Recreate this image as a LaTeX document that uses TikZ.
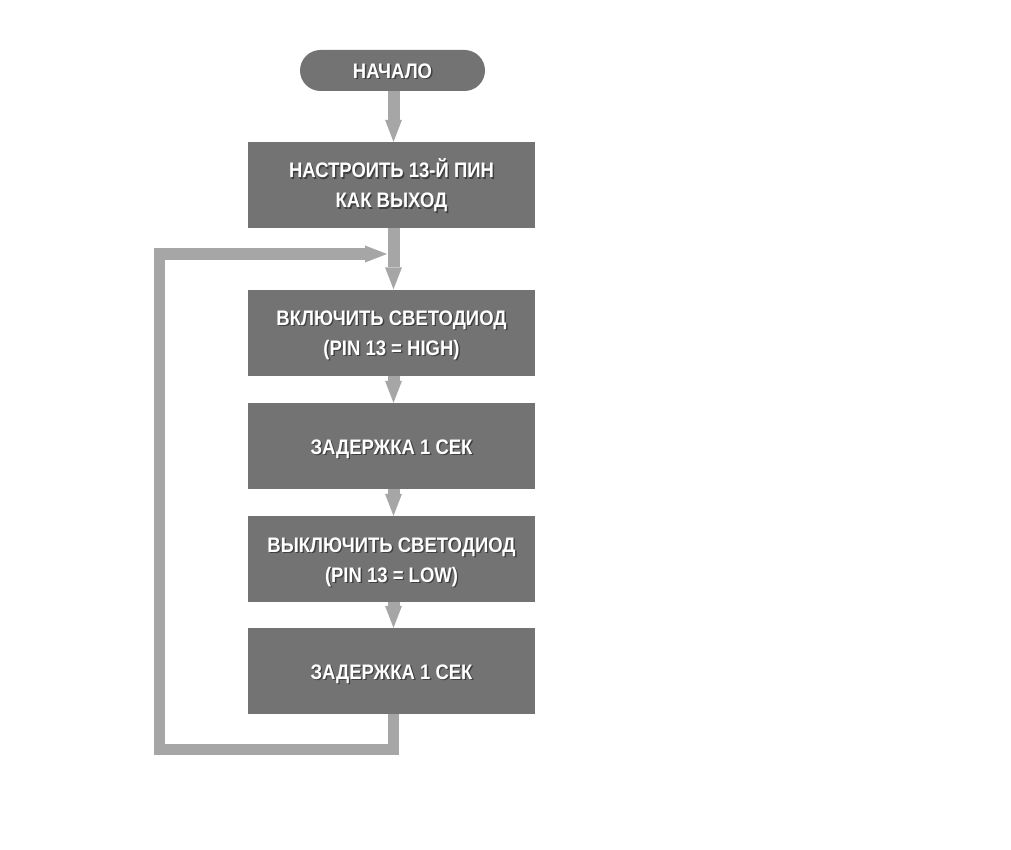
\documentclass[tikz,border=0pt]{standalone}
\usepackage{fontspec}
\setmainfont{Liberation Sans}[FakeStretch=0.88]
\usetikzlibrary{arrows.meta}
\definecolor{boxgray}{HTML}{737373}
\definecolor{arrgray}{HTML}{A6A6A6}
\newcommand{\shtxt}[1]{\raisebox{-8pt}[0pt][0pt]{\makebox[0pt][l]{\hspace{1.4pt}\raisebox{-1.4pt}{\color{black!75}#1}}#1}}
\tikzset{
  blockbox/.style={rectangle, fill=boxgray, minimum width=287pt, minimum height=86pt,
    inner sep=0pt, text=white, font=\fontsize{21}{30}\selectfont\bfseries, align=center},
  startbox/.style={rectangle, rounded corners=20.5pt, fill=boxgray, minimum width=185pt,
    minimum height=41pt, inner sep=0pt, text=white, font=\fontsize{21}{30}\selectfont\bfseries},
  flowarrow/.style={draw=arrgray, line width=12pt,
    -{Triangle[width=17pt,length=22pt,line width=0pt]}},
  loopline/.style={draw=arrgray, line width=11pt}
}
\begin{document}
\begin{tikzpicture}[x=1pt,y=-1pt]
\useasboundingbox (0,0) rectangle (1011,850);
\node[startbox] (s) at (392.5,70.5) {\shtxt{НАЧАЛО}};
\node[blockbox] (b1) at (391.5,185) {\shtxt{НАСТРОИТЬ 13-Й ПИН}\\\shtxt{КАК ВЫХОД}};
\node[blockbox] (b2) at (391.5,332.5) {\shtxt{ВКЛЮЧИТЬ СВЕТОДИОД}\\\shtxt{(PIN 13 = HIGH)}};
\node[blockbox] (b3) at (391.5,446) {\shtxt{ЗАДЕРЖКА 1 СЕК}};
\node[blockbox] (b4) at (391.5,559) {\shtxt{ВЫКЛЮЧИТЬ СВЕТОДИОД}\\\shtxt{(PIN 13 = LOW)}};
\node[blockbox] (b5) at (391.5,671) {\shtxt{ЗАДЕРЖКА 1 СЕК}};
\coordinate (ll) at (159.5,749.5);
\coordinate (ul) at (159.5,254);
\coordinate (jn) at (387,254);
\draw[flowarrow] ([xshift=2pt]b1.north |- s.south) -- ([xshift=2pt]b1.north);
\draw[flowarrow] ([xshift=2pt]b1.south) -- ([xshift=2pt]b2.north);
\draw[flowarrow] ([xshift=2pt]b2.south) -- ([xshift=2pt]b3.north);
\draw[flowarrow] ([xshift=2pt]b3.south) -- ([xshift=2pt]b4.north);
\draw[flowarrow] ([xshift=2pt]b4.south) -- ([xshift=2pt]b5.north);
\draw[loopline] ([xshift=2pt]b5.south) |- (ll) -- ([yshift=-6pt]ul) ;
\draw[flowarrow] ([xshift=-5.5pt]ul) -- (jn);
\end{tikzpicture}
\end{document}
